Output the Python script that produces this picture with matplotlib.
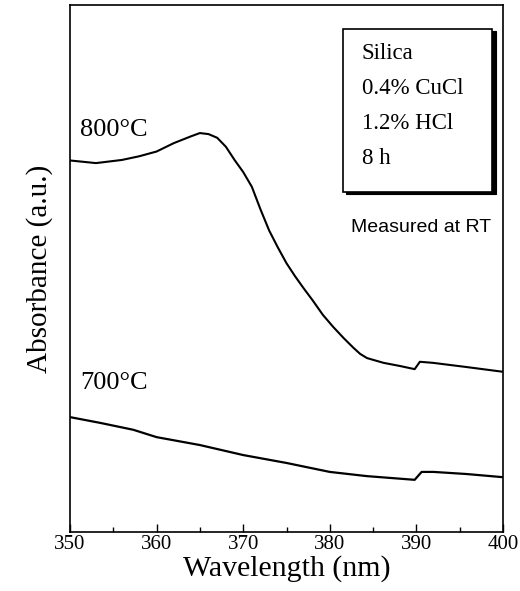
import matplotlib
matplotlib.use("Agg")
import matplotlib.pyplot as plt
from matplotlib.patches import Rectangle
from matplotlib.ticker import MultipleLocator
import numpy as np

plt.rcParams['font.family'] = ['Liberation Serif', 'DejaVu Serif']

# Wavelength (nm) and absorbance (a.u.)
wl_800 = [350, 353, 356, 358, 360, 362, 364, 365, 366, 367, 368, 369, 370,
          371, 372, 373, 374, 375, 376, 377, 378, 379.2, 380.4, 381.6, 382.7,
          383.5, 384.3, 386.2, 388.1, 389.8, 390.4, 391.9, 395.8, 400]
abs_800 = [0.705, 0.700, 0.706, 0.713, 0.722, 0.738, 0.751, 0.757, 0.755,
           0.748, 0.731, 0.706, 0.683, 0.655, 0.612, 0.572, 0.540, 0.510,
           0.485, 0.462, 0.440, 0.412, 0.389, 0.368, 0.350, 0.338, 0.330,
           0.321, 0.315, 0.309, 0.323, 0.321, 0.313, 0.304]

wl_700 = [350, 353.5, 357.3, 360, 365, 370, 375, 380, 384.3, 389.8, 390.6,
          392, 395.8, 400]
abs_700 = [0.218, 0.207, 0.194, 0.180, 0.165, 0.146, 0.131, 0.114, 0.106,
           0.099, 0.114, 0.114, 0.110, 0.104]

curve_labels = ["800\u00b0C", "700\u00b0C"]
box_lines = ["Silica", "0.4% CuCl", "1.2% HCl", "8 h"]
note = "Measured at RT"
xticks = [350, 360, 370, 380, 390, 400]

fig = plt.figure(figsize=(5.2, 5.91), dpi=100)
ax = fig.add_axes([70/520, 59/591, 433/520, 527/591])

ax.plot(wl_800, abs_800, color='black', lw=1.5)
ax.plot(wl_700, abs_700, color='black', lw=1.6)

ax.set_xlim(350, 400)
ax.set_ylim(0, 1)
ax.set_xticks(xticks)
ax.xaxis.set_minor_locator(MultipleLocator(5))
ax.set_yticks([])
ax.tick_params(axis='x', which='major', direction='in', length=6, width=1,
               labelsize=15, pad=2, top=False)
ax.tick_params(axis='x', which='minor', direction='in', length=3.5, width=1,
               top=False)
for s in ax.spines.values():
    s.set_linewidth(1.2)

ax.set_xlabel("Wavelength (nm)", fontsize=21.5, labelpad=1)
ax.set_ylabel("Absorbance (a.u.)", fontsize=21, labelpad=12)

ax.text(0.023, 0.763, curve_labels[0], transform=ax.transAxes, fontsize=19,
        va='center', ha='left')
ax.text(0.023, 0.283, curve_labels[1], transform=ax.transAxes, fontsize=19,
        va='center', ha='left')

# Info box with shadow
bx0, by0, bw, bh = 0.630, 0.645, 0.345, 0.309
ax.add_patch(Rectangle((bx0 + 0.008, by0 - 0.004), bw, bh,
                       transform=ax.transAxes, facecolor='black',
                       edgecolor='black', lw=0.8, zorder=4))
ax.add_patch(Rectangle((bx0, by0), bw, bh, transform=ax.transAxes,
                       facecolor='white', edgecolor='black', lw=1.2, zorder=5))
for t, y in zip(box_lines, [0.908, 0.841, 0.775, 0.708]):
    ax.text(0.674, y, t, transform=ax.transAxes, fontsize=16.5, va='center',
            ha='left', zorder=6)

ax.text(0.973, 0.577, note, transform=ax.transAxes, fontsize=14,
        va='center', ha='right', family=['Liberation Sans', 'DejaVu Sans'])

fig.savefig("out.png", dpi=100)
